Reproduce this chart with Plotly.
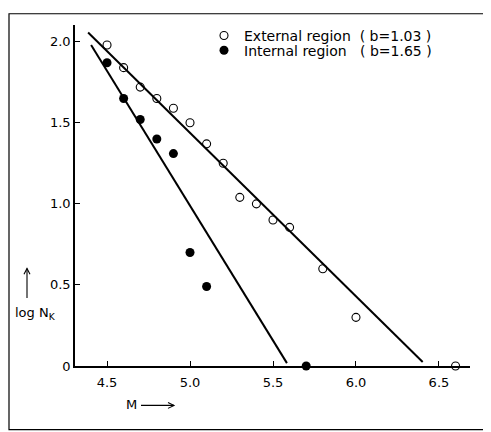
import plotly.graph_objects as go
import numpy as np

# External region (open circles)
ext_M = [4.5, 4.6, 4.7, 4.8, 4.9, 5.0, 5.1, 5.2, 5.3, 5.4, 5.5, 5.6, 5.8, 6.0, 6.6]
ext_logN = [1.98, 1.84, 1.72, 1.65, 1.59, 1.50, 1.37, 1.25, 1.04, 1.00, 0.90, 0.855, 0.60, 0.30, 0.0]

# Internal region (filled circles)
int_M = [4.5, 4.6, 4.7, 4.8, 4.9, 5.0, 5.1, 5.7]
int_logN = [1.87, 1.65, 1.52, 1.40, 1.31, 0.70, 0.49, 0.0]

# Fitted lines: logN = a - b*M, drawn over [M_start, M_end]
ext_a, ext_b = 6.478, 1.008
ext_range = [4.386, 6.402]
int_a, int_b = 9.304, 1.663
int_range = [4.404, 5.584]

x_ticks = [4.5, 5.0, 5.5, 6.0, 6.5]
x_ticklabels = ["4.5", "5.0", "5.5", "6.0", "6.5"]
y_ticks = [0, 0.5, 1.0, 1.5, 2.0]
y_ticklabels = ["0", "0.5", "1.0", "1.5", "2.0"]

legend_names = ["External region  ( b=1.03 )", "Internal region   ( b=1.65 )"]

FONT = "DejaVu Sans"

fig = go.Figure()

ex = np.array(ext_range)
fig.add_trace(go.Scatter(x=ex, y=ext_a - ext_b * ex, mode="lines",
                         line=dict(color="black", width=2), showlegend=False,
                         hoverinfo="skip", cliponaxis=False))
ix = np.array(int_range)
fig.add_trace(go.Scatter(x=ix, y=int_a - int_b * ix, mode="lines",
                         line=dict(color="black", width=2), showlegend=False,
                         hoverinfo="skip", cliponaxis=False))

fig.add_trace(go.Scatter(x=ext_M, y=ext_logN, mode="markers", name=legend_names[0],
                         marker=dict(symbol="circle-open", size=8, color="black",
                                     line=dict(width=1.1, color="black")),
                         cliponaxis=False, legend="legend"))
fig.add_trace(go.Scatter(x=int_M, y=int_logN, mode="markers", name=legend_names[1],
                         marker=dict(symbol="circle", size=9, color="black"),
                         cliponaxis=False, legend="legend2"))

# The page body adds an 8px offset; work in figure coordinates = screen - 8
OFF = 8
W, H = 491 - OFF, 432 - OFF
L, R, T, B = 67, 21, 12, 66
pw, ph = W - L - R, H - T - B

def px(xs):
    return (xs - OFF - L) / pw

def py(ys):
    return (H - B - (ys - OFF)) / ph

def path(points):
    return "M " + " L ".join(f"{px(a):.5f},{py(b):.5f}" for a, b in points)

leg_common = dict(xanchor="left", yanchor="middle", bgcolor="rgba(0,0,0,0)",
                  font=dict(size=14, family=FONT), itemwidth=30,
                  borderwidth=0)

arrow_style = dict(type="path", xref="paper", yref="paper",
                   line=dict(color="black", width=1.1))

fig.update_layout(
    width=W, height=H,
    margin=dict(l=L, r=R, t=T, b=B),
    paper_bgcolor="white", plot_bgcolor="white",
    font=dict(family=FONT, color="black", size=13),
    showlegend=True,
    legend=dict(x=px(204), y=py(31), **leg_common),
    legend2=dict(x=px(204), y=py(46), **leg_common),
    xaxis=dict(range=[4.307, 6.687], tickvals=x_ticks, ticktext=x_ticklabels,
               showgrid=False, zeroline=False, showline=True, linecolor="black",
               linewidth=1.5, ticks="inside", ticklen=5, tickcolor="black",
               tickwidth=1.2, tickfont=dict(size=13), ticklabelstandoff=4),
    yaxis=dict(range=[0, 2.103], tickvals=y_ticks, ticktext=y_ticklabels,
               showgrid=False, zeroline=False, showline=True, linecolor="black",
               linewidth=1.5, ticks="inside", ticklen=5, tickcolor="black",
               tickwidth=1.2, tickfont=dict(size=13)),
    shapes=[
        dict(type="rect", xref="paper", yref="paper",
             x0=px(9), x1=px(484), y0=py(430.5), y1=py(8.6),
             line=dict(color="black", width=1.2)),
        dict(path=path([(27, 297), (27, 267)]), **arrow_style),
        dict(path=path([(24, 273), (27, 267), (30, 273)]), **arrow_style),
        dict(path=path([(141, 406), (174, 406)]), **arrow_style),
        dict(path=path([(168, 403), (174, 406), (168, 409)]), **arrow_style),
    ],
    annotations=[
        dict(xref="paper", yref="paper", x=px(13), y=py(313), xanchor="left",
             yanchor="middle", text="log N<sub>K</sub>", showarrow=False,
             font=dict(size=13)),
        dict(xref="paper", yref="paper", x=px(124), y=py(405), xanchor="left",
             yanchor="middle", text="M", showarrow=False, font=dict(size=13)),
    ],
)

fig.write_html("out.html")
